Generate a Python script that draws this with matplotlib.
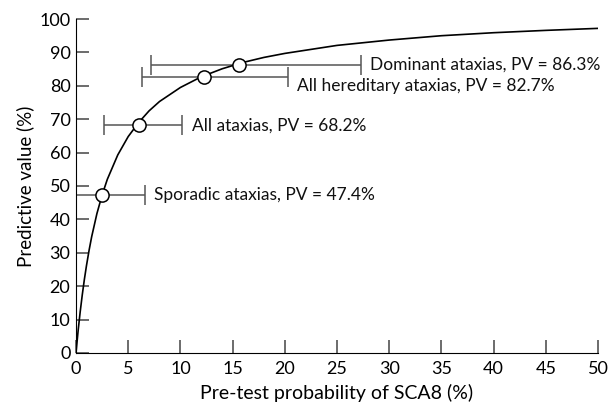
import matplotlib.pyplot as plt

# curve: pre-test probability (%) vs predictive value (%)
curve_x = [0, 0.2, 0.4, 0.6, 0.8, 1.0, 1.25, 1.5, 2, 2.5, 3, 4, 5, 6, 7, 8, 10,
           12, 14, 16, 18, 20, 25, 30, 35, 40, 45, 50]
curve_y = [0, 6.6, 12.3, 17.4, 22.0, 26.1, 30.7, 34.8, 41.7, 47.3, 52.0, 59.3,
           64.8, 69.0, 72.5, 75.3, 79.5, 82.7, 85.1, 87.0, 88.5, 89.7, 92.1,
           93.7, 95.0, 95.9, 96.6, 97.2]

# groups with point estimate and range
names = ["Sporadic ataxias", "All ataxias", "All hereditary ataxias", "Dominant ataxias"]
prob = [2.5, 6.0, 12.3, 15.6]
pv = [47.4, 68.2, 82.7, 86.3]
lo = [0.0, 2.7, 6.3, 7.2]
hi = [6.6, 10.2, 20.3, 27.3]

plt.rcParams['font.family'] = ['Lato', 'DejaVu Sans']

fig = plt.figure(figsize=(6.1, 4.09), dpi=100)
ax = fig.add_axes([0.1246, 0.137, 0.8557, 0.8165])

for i in range(len(names)):
    ax.errorbar(prob[i], pv[i], xerr=[[prob[i] - lo[i]], [hi[i] - prob[i]]],
                fmt='none', ecolor='#555555', elinewidth=1.1, capsize=7.5,
                capthick=1.1, zorder=2)

ax.plot(curve_x, curve_y, color='black', lw=1.2, zorder=3)
ax.plot(prob, pv, 'o', ms=9.5, mfc='white', mec='black', mew=1.1, zorder=4)

for i in range(len(names)):
    dy = 0
    if names[i] == "All hereditary ataxias":
        dy = -2.7
    ax.text(hi[i] + 0.9, pv[i] + dy, f"{names[i]}, PV = {pv[i]}%",
            fontsize=12.5, va='center', ha='left', color='#111111')

ax.set_xlim(0, 50)
ax.set_ylim(0, 100)
ax.set_xticks(range(0, 51, 5))
ax.set_yticks(range(0, 101, 10))
ax.spines['top'].set_visible(False)
ax.spines['right'].set_visible(False)
ax.tick_params(direction='in', length=9.5, width=1.1, color='#444444',
               labelsize=13, pad=4)
ax.tick_params(axis='x', pad=6)
ax.set_xlabel("Pre-test probability of SCA8 (%)", fontsize=14, labelpad=5)
ax.set_ylabel("Predictive value (%)", fontsize=13.5)

fig.savefig("out.png", dpi=100)
